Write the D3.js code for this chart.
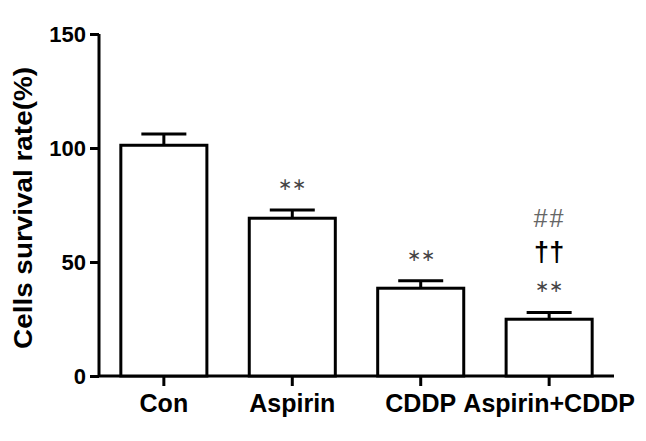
<!DOCTYPE html>
<html>
<head>
<meta charset="utf-8">
<script src="https://d3js.org/d3.v7.min.js"></script>
<style>
  body { margin: 0; background: #fff; }
  text { font-family: "Liberation Sans", Arial, sans-serif; }
</style>
</head>
<body>
<div id="chart"></div>
<script>
// data
var categories = ["Con", "Aspirin", "CDDP", "Aspirin+CDDP"]
var means = [101.2, 69.2, 38.5, 24.9]
var errors = [4.9, 3.6, 3.3, 3.0]
var yTicks = [0, 50, 100, 150]
// marks written above each bar, bottom to top
var marks = [[], ["**"], ["**"], ["**", "\u2020\u2020", "##"]]

var width = 646, height = 441

var svg = d3.select("#chart")
  .append("svg")
  .attr("width", width)
  .attr("height", height)

var y = d3.scaleLinear()
  .domain([0, 150])
  .range([376, 34])

var x = d3.scaleBand()
  .domain(categories)
  .range([99, 614])
  .paddingInner(0.33)
  .paddingOuter(0.17)

// y axis
var yAxis = svg.append("g")
  .attr("transform", "translate(99,0)")
  .call(d3.axisLeft(y).tickValues(yTicks).tickSize(9).tickPadding(4))
yAxis.select(".domain").attr("stroke-width", 3).attr("d", "M0," + y(150) + "V" + y(0))
yAxis.selectAll(".tick line").attr("stroke-width", 3)
yAxis.selectAll(".tick text")
  .attr("font-size", 22).attr("font-weight", "bold").attr("fill", "#000")
  .attr("font-family", "Liberation Sans, Arial, sans-serif")

// x axis
var xAxis = svg.append("g")
  .attr("transform", "translate(0," + y(0) + ")")
  .call(d3.axisBottom(x).tickSize(10).tickPadding(8))
xAxis.select(".domain").attr("stroke-width", 3).attr("d", "M99,0H614")
xAxis.selectAll(".tick line").attr("stroke-width", 3)
xAxis.selectAll(".tick text")
  .attr("font-size", 25).attr("font-weight", "bold").attr("fill", "#000")
  .attr("font-family", "Liberation Sans, Arial, sans-serif")

// bars
svg.selectAll(".bar")
  .data(means)
  .enter()
  .append("rect")
  .attr("class", "bar")
  .attr("x", function(d, i) { return x(categories[i]) })
  .attr("y", function(d) { return y(d) })
  .attr("width", x.bandwidth())
  .attr("height", function(d) { return y(0) - y(d) })
  .attr("fill", "white")
  .attr("stroke", "black")
  .attr("stroke-width", 3)

// error bars
var cx = function(i) { return x(categories[i]) + x.bandwidth() / 2 }
svg.selectAll(".err")
  .data(means)
  .enter()
  .append("path")
  .attr("d", function(d, i) {
    var top = y(d + errors[i])
    return "M" + cx(i) + "," + y(d) + "V" + top + "M" + (cx(i) - 22.5) + "," + top + "H" + (cx(i) + 22.5)
  })
  .attr("fill", "none")
  .attr("stroke", "black")
  .attr("stroke-width", 3)

// significance marks
marks.forEach(function(list, i) {
  var top = y(means[i] + errors[i])
  list.forEach(function(m, j) {
    var base = top - 20 - j * 40
    var t = svg.append("text")
      .attr("x", cx(i))
      .attr("text-anchor", "middle")
    if (m == "**") {
      t.text("\u2217\u2217").attr("y", base)
        .attr("font-family", "DejaVu Sans").attr("font-size", 17).attr("fill", "#444")
    } else if (m == "##") {
      t.text("##").attr("y", base + 15).attr("letter-spacing", 2)
        .attr("font-family", "DejaVu Sans").attr("font-size", 25).attr("font-weight", 300)
        .attr("fill", "#666").attr("font-style", "italic")
    } else {
      t.text(m).attr("y", base + 9)
        .attr("font-size", 27).attr("font-weight", "bold").attr("fill", "#000")
    }
  })
})

// y title
svg.append("text")
  .attr("transform", "translate(32,208) rotate(-90)")
  .attr("text-anchor", "middle")
  .attr("font-size", 26)
  .attr("font-weight", "bold")
  .attr("textLength", 282)
  .attr("lengthAdjust", "spacingAndGlyphs")
  .text("Cells survival rate(%)")
</script>
</body>
</html>
